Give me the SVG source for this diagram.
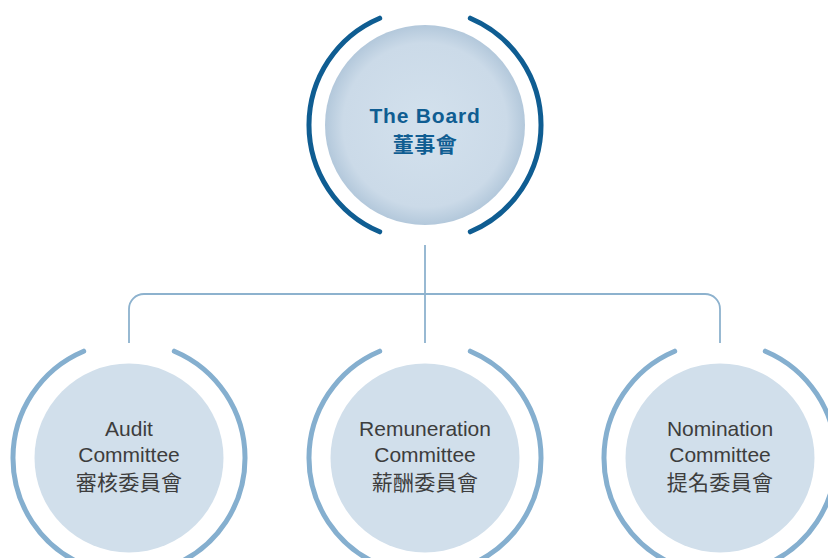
<svg xmlns="http://www.w3.org/2000/svg" width="828" height="558" viewBox="0 0 828 558">
<defs>
<radialGradient id="topFill" cx="50%" cy="50%" r="50%">
<stop offset="0" stop-color="#d3e1ed"/>
<stop offset="0.82" stop-color="#cbdae8"/>
<stop offset="1" stop-color="#b3c8db"/>
</radialGradient>
</defs>
<style>
.arcTop{fill:none;stroke:#0f5d92;stroke-width:5;stroke-linecap:round}
.arcSub{fill:none;stroke:#85afcf;stroke-width:5;stroke-linecap:round}
.subFill{fill:#d1dfeb}
.conn{fill:none;stroke:#8db2ce;stroke-width:1.8}
.tTop{font-family:"Liberation Sans","Noto Sans CJK TC",sans-serif;font-weight:bold;fill:#0f5d92;text-anchor:middle}
.tSub{font-family:"Liberation Sans","Noto Sans CJK TC",sans-serif;font-size:21px;fill:#3d3d3d;text-anchor:middle}
.zh{letter-spacing:0.3px}
</style>
<rect width="828" height="558" fill="#ffffff"/>
<g id="connectors">
<path class="conn" d="M425 245 V343"/>
<path class="conn" d="M129 343 V309 A15 15 0 0 1 144 294 H705 A15 15 0 0 1 720 309 V343"/>
</g>
<g id="board">
<circle cx="425" cy="125" r="100" fill="url(#topFill)"/>
<path class="arcTop" d="M379.7 18.2 A116 116 0 0 0 379.7 231.8"/>
<path class="arcTop" d="M470.3 18.2 A116 116 0 0 1 470.3 231.8"/>
<text class="tTop" x="425" y="123" font-size="21" letter-spacing="0.8">The Board</text>
<text class="tTop" x="425" y="152" font-size="21" letter-spacing="0.5">董事會</text>
</g>
<g id="audit">
<circle class="subFill" cx="129" cy="458" r="94.5"/>
<path class="arcSub" d="M83.7 351.2 A116 116 0 0 0 83.7 564.8"/>
<path class="arcSub" d="M174.3 351.2 A116 116 0 0 1 174.3 564.8"/>
<text class="tSub" x="129" y="436">Audit</text>
<text class="tSub" x="129" y="462">Committee</text>
<text class="tSub zh" x="129" y="490">審核委員會</text>
</g>
<g id="remuneration">
<circle class="subFill" cx="425" cy="458" r="94.5"/>
<path class="arcSub" d="M379.7 351.2 A116 116 0 0 0 379.7 564.8"/>
<path class="arcSub" d="M470.3 351.2 A116 116 0 0 1 470.3 564.8"/>
<text class="tSub" x="425" y="436">Remuneration</text>
<text class="tSub" x="425" y="462">Committee</text>
<text class="tSub zh" x="425" y="490">薪酬委員會</text>
</g>
<g id="nomination">
<circle class="subFill" cx="720" cy="458" r="94.5"/>
<path class="arcSub" d="M674.7 351.2 A116 116 0 0 0 674.7 564.8"/>
<path class="arcSub" d="M765.3 351.2 A116 116 0 0 1 765.3 564.8"/>
<text class="tSub" x="720" y="436">Nomination</text>
<text class="tSub" x="720" y="462">Committee</text>
<text class="tSub zh" x="720" y="490">提名委員會</text>
</g>
</svg>
